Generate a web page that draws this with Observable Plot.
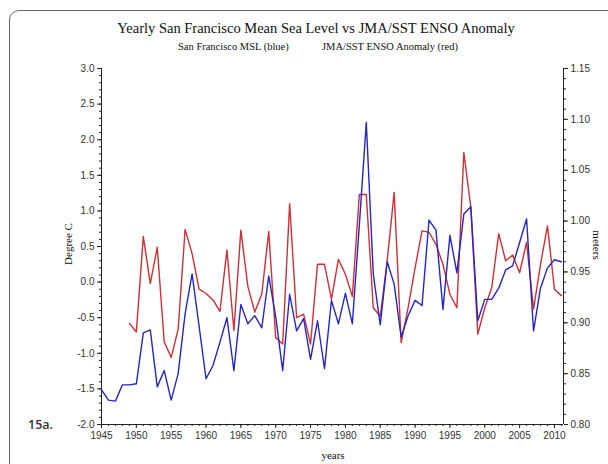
<!DOCTYPE html>
<html><head><meta charset="utf-8">
<script src="https://cdn.jsdelivr.net/npm/d3@7"></script>
<script src="https://cdn.jsdelivr.net/npm/@observablehq/plot@0.6"></script>
<style>
body{margin:0;background:#fff;}
#wrap{position:relative;width:608px;height:464px;overflow:hidden;background:#fff;}
#frame{position:absolute;left:9px;top:10px;width:640px;height:500px;border:1px solid #666;border-radius:10px;pointer-events:none;}
.t{position:absolute;font-family:"Liberation Serif",serif;color:#111;white-space:nowrap;}
.rot{transform:translate(-50%,-50%) rotate(-90deg);}
.rot2{transform:translate(-50%,-50%) rotate(90deg);}
</style></head><body>
<div id="wrap">
<div id="chart" style="position:absolute;left:0;top:0"></div>
<div id="frame"></div>
<div class="t" style="left:0;width:632px;text-align:center;top:20px;font-size:14.5px">Yearly San Francisco Mean Sea Level vs JMA/SST ENSO Anomaly</div>
<div class="t" style="left:178px;top:41px;font-size:10.5px">San Francisco MSL (blue)</div>
<div class="t" style="left:322px;top:41px;font-size:10.5px">JMA/SST ENSO Anomaly (red)</div>
<div class="t rot" style="left:68px;top:244px;font-size:11px">Degree C</div>
<div class="t rot2" style="left:597px;top:245px;font-size:11px">meters</div>
<div class="t" style="left:333px;top:455px;transform:translate(-50%,-50%);font-size:11px">years</div>
<div class="t" style="left:28px;top:416px;font-family:'Open Sans',sans-serif;font-size:12.5px;font-weight:600;color:#333">15a.</div>
</div>
<script>
// San Francisco mean sea level (meters), 1945-2011
const mslYears = d3.range(1945, 2012);
const mslMeters = [
  0.834, 0.824, 0.823, 0.839, 0.839, 0.840, 0.890, 0.893, 0.837, 0.853,
  0.824, 0.850, 0.909, 0.948, 0.897, 0.845, 0.858, 0.881, 0.905, 0.853,
  0.918, 0.899, 0.907, 0.895, 0.946, 0.906, 0.853, 0.928, 0.892, 0.904,
  0.864, 0.902, 0.855, 0.922, 0.899, 0.929, 0.899, 0.996, 1.097, 0.948,
  0.898, 0.960, 0.938, 0.886, 0.907, 0.922, 0.917, 1.001, 0.991, 0.913,
  0.986, 0.949, 1.007, 1.014, 0.902, 0.923, 0.923, 0.934, 0.952, 0.956,
  0.979, 1.002, 0.892, 0.934, 0.954, 0.962, 0.960
];
// JMA/SST ENSO anomaly (degree C), 1949-2011
const ensoYears = d3.range(1949, 2012);
const ensoAnom = [
  -0.58, -0.70, 0.64, -0.02, 0.49, -0.84, -1.06, -0.66, 0.74, 0.40,
  -0.10, -0.16, -0.25, -0.41, 0.45, -0.68, 0.73, -0.06, -0.42, -0.17,
  0.71, -0.78, -0.87, 1.10, -0.50, -0.45, -0.87, 0.25, 0.25, -0.24,
  0.32, 0.11, -0.20, 1.23, 1.23, -0.36, -0.48, 0.30, 1.26, -0.85,
  -0.36, 0.20, 0.72, 0.70, 0.53, 0.25, -0.17, -0.36, 1.82, 1.05,
  -0.73, -0.36, -0.08, 0.68, 0.30, 0.38, 0.13, 0.56, -0.38, 0.25,
  0.79, -0.10, -0.19
];
const xTicks = [1945,1950,1955,1960,1965,1970,1975,1980,1985,1990,1995,2000,2005,2010];
const degTicks = [-2.0,-1.5,-1.0,-0.5,0.0,0.5,1.0,1.5,2.0,2.5,3.0];
const meterTicks = [0.80,0.85,0.90,0.95,1.00,1.05,1.10,1.15];

const xMin = 1945, xMax = 2011.3, yMin = -2, yMax = 3;
// meters axis is aligned so that 0.80 m = -2.0 C and 1.15 m = 3.0 C
const toDeg = m => (m - 0.94) / 0.07;
const toM = d => 0.94 + 0.07 * d;

const ink = "#222";
const chart = Plot.plot({
  width: 608, height: 464,
  marginLeft: 101, marginRight: 45, marginTop: 68, marginBottom: 40,
  style: {background: "transparent", fontFamily: "'Liberation Sans', Arial, sans-serif", fontSize: "10px", color: "#333"},
  x: {domain: [xMin, xMax]},
  y: {domain: [yMin, yMax]},
  marks: [
    Plot.axisX({ticks: d3.range(1945, 2012), tickSize: 2, tickFormat: () => "", stroke: ink}),
    Plot.axisX({ticks: xTicks, tickSize: 4, tickPadding: 3, tickFormat: d => String(d), label: null, stroke: ink}),
    Plot.axisY({ticks: d3.range(-20, 31).map(v => v / 10), tickSize: 2, tickFormat: () => "", stroke: ink}),
    Plot.axisY({ticks: degTicks, tickSize: 4, tickPadding: 3, tickFormat: d => d.toFixed(1), label: null, stroke: ink}),
    Plot.axisY({anchor: "right", ticks: d3.range(80, 116).map(v => toDeg(v / 100)), tickSize: 2, tickFormat: () => "", stroke: ink}),
    Plot.axisY({anchor: "right", ticks: meterTicks.map(toDeg), tickSize: 4, tickPadding: 3, tickFormat: d => toM(d).toFixed(2), label: null, stroke: ink}),
    Plot.ruleX([xMin, xMax], {y1: yMin, y2: yMax, stroke: ink}),
    Plot.ruleY([yMin], {x1: xMin, x2: xMax, stroke: ink}),
    Plot.line(ensoAnom, {x: (d, i) => ensoYears[i], y: d => d, stroke: "#cc3038", strokeWidth: 1.4}),
    Plot.line(mslMeters, {x: (d, i) => mslYears[i], y: d => toDeg(d), stroke: "#2626c4", strokeWidth: 1.4})
  ]
});
document.getElementById("chart").append(chart);
</script>
</body></html>
